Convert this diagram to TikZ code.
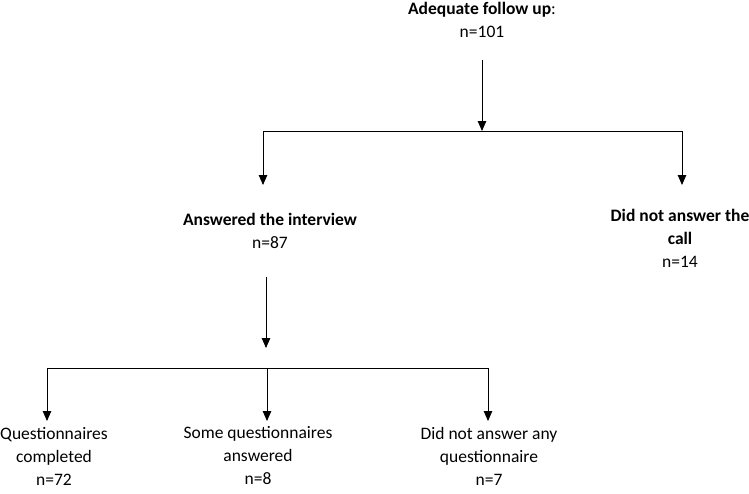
\documentclass[tikz,border=0pt]{standalone}
\usepackage{fontspec}
\setmainfont{Carlito}
\usetikzlibrary{arrows.meta}
\tikzset{
  fc text/.style={align=center, inner sep=0pt, font=\fontsize{17.5}{23}\selectfont},
  fc line/.style={draw=black, line width=0.9pt},
  fc arrow/.style={fc line, -{Triangle[length=10pt,width=8.5pt]}}
}

\begin{document}
\begin{tikzpicture}[x=1pt,y=-1pt]
\useasboundingbox (0,0) rectangle (749,493);
% first level
\node[fc text] (follow) at (482,20) {\textbf{Adequate follow up}:\\n=101};
\node[fc text] (answered) at (270,231) {\textbf{Answered the interview}\\n=87};
\node[fc text] (nocall) at (680,238) {\textbf{Did not answer the}\\\textbf{call}\\n=14};
\coordinate (follow out) at (482,60);
\coordinate (split one) at (482,131);
\coordinate (answered in) at (263,185);
\coordinate (nocall in) at (682,185);
\draw[fc arrow] (follow out) -- (split one);
\draw[fc arrow] (split one) -| (answered in);
\draw[fc arrow] (split one) -| (nocall in);
% second level
\node[fc text] (completed) at (54,456) {Questionnaires\\completed\\n=72};
\node[fc text] (some) at (258,456) {Some questionnaires\\answered\\n=8};
\node[fc text] (none) at (489,456) {Did not answer any\\questionnaire\\n=7};
\coordinate (answered out) at (266,277);
\coordinate (answered tip) at (266,348);
\coordinate (split two) at (267,368);
\coordinate (completed in) at (47,421);
\coordinate (some in) at (267,421);
\coordinate (none in) at (488,421);
\draw[fc arrow] (answered out) -- (answered tip);
\draw[fc arrow] (split two) -| (completed in);
\draw[fc arrow] (split two) -- (some in);
\draw[fc arrow] (split two) -| (none in);
\end{tikzpicture}
\end{document}
